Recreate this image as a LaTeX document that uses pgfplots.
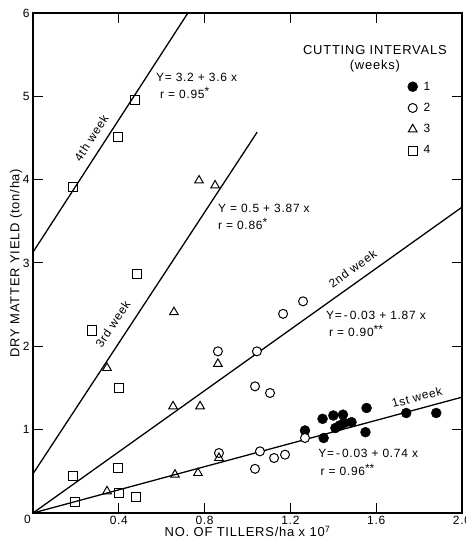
\documentclass[border=0pt]{standalone}
\usepackage{fontspec}
\setmainfont{Liberation Sans}[LetterSpace=6]
\usepackage{pgfplots}
\pgfplotsset{compat=1.18}
\newcommand{\st}{\raisebox{0.45ex}{*}}
\begin{document}
\begin{tikzpicture}
\begin{axis}[
  name=ax,
  scale only axis, width=429bp, height=500bp,
  xmin=0, xmax=2.0, ymin=0, ymax=6,
  axis line style={line width=1.2pt},
  tick style={line width=1pt, black},
  major tick length=10bp,
  tick align=inside, tick pos=both,
  xtick={0.4,0.8,1.2,1.6,2.0},
  xticklabels={0.4,0.8,1.2,1.6,2.0},
  ytick={1,2,3,4,5,6},
  yticklabels={1,2,3,4,5,6},
  ticklabel style={font=\fontsize{12}{14}\selectfont},
  xticklabel pos=lower, yticklabel pos=left,
  /pgf/number format/assume math mode=true,
  xlabel={NO. OF TILLERS/ha x 10\textsuperscript{7}},
  ylabel={DRY MATTER YIELD (ton/ha)},
  label style={font=\fontsize{13}{15}\selectfont},
  xlabel style={yshift=6bp},
  ylabel style={yshift=-6bp},
  clip=false,
  legend style={draw=none, fill=none, at={(axis cs:1.739,5.20)}, anchor=north west,
    font=\fontsize{12}{14}\selectfont, row sep=7.5bp, inner sep=0pt},
  legend cell align=left,
  legend image code/.code={\path (0bp,0bp) (14.5bp,0bp); \draw[#1] plot coordinates {(6bp,0bp)};},
]
% regression lines
\addplot[black, line width=1.3pt, forget plot] coordinates {(0,3.13) (0.722,6)};
\addplot[black, line width=1.3pt, forget plot] coordinates {(0,0.47) (1.045,4.57)};
\addplot[black, line width=1.3pt, forget plot] coordinates {(0,0) (2.0,3.67)};
\addplot[black, line width=1.3pt, forget plot] coordinates {(0,0) (2.0,1.39)};
% week 1
\addplot[only marks, mark=*, mark size=5bp, black, fill=black] coordinates {
(1.268,0.99) (1.35,1.13) (1.355,0.90) (1.40,1.17) (1.41,1.02) (1.445,1.18)
(1.45,1.08) (1.485,1.09) (1.555,1.26) (1.55,0.97) (1.74,1.20) (1.88,1.20) (1.43,1.05)};
\addlegendentry{1}
% week 2
\addplot[only marks, mark=*, mark size=4.5bp, black, fill=white, line width=1pt] coordinates {
(1.259,2.54) (1.166,2.39) (0.862,1.94) (1.044,1.94) (1.035,1.52) (1.105,1.44)
(0.867,0.72) (1.058,0.74) (1.124,0.66) (1.175,0.70) (1.035,0.53) (1.268,0.90)};
\addlegendentry{2}
% week 3
\addplot[only marks, mark=triangle, mark size=5bp, black, line width=1pt] coordinates {
(0.774,3.99) (0.849,3.93) (0.657,2.41) (0.345,1.74) (0.862,1.79) (0.653,1.28)
(0.779,1.28) (0.345,0.26) (0.662,0.46) (0.769,0.48) (0.867,0.66)};
\addlegendentry{3}
% week 4
\addplot[only marks, mark=square, mark size=4.5bp, black, line width=1pt] coordinates {
(0.186,3.91) (0.396,4.51) (0.476,4.95) (0.485,2.87) (0.275,2.19) (0.40,1.50)
(0.186,0.44) (0.396,0.54) (0.196,0.13) (0.40,0.24) (0.48,0.19)};
\addlegendentry{4}
% legend title
\node[font=\fontsize{13}{15}\selectfont] at (axis cs:1.594,5.55) {CUTTING INTERVALS};
\node[font=\fontsize{13}{15}\selectfont] at (axis cs:1.594,5.36) {(weeks)};
% origin label
\node[font=\fontsize{12}{14}\selectfont, anchor=north east, inner sep=2bp] at (axis cs:0,0) {0};
% equations
\begin{scope}[every node/.style={font=\fontsize{12}{14}\selectfont, anchor=west, inner sep=0pt}]
\node at (axis cs:0.573,5.23) {Y= 3.2 + 3.6 x};
\node at (axis cs:0.592,5.04) {r = 0.95\st};
\node at (axis cs:0.862,3.66) {Y = 0.5 + 3.87 x};
\node at (axis cs:0.862,3.47) {r = 0.86\st};
\node at (axis cs:1.366,2.37) {Y=\,-\,0.03 + 1.87 x};
\node at (axis cs:1.38,2.18) {r = 0.90\st\st};
\node at (axis cs:1.33,0.72) {Y=\,-\,0.03 + 0.74 x};
\node at (axis cs:1.34,0.52) {r = 0.96\st\st};
\end{scope}
% line labels
\begin{scope}[every node/.style={font=\fontsize{12}{14}\selectfont, inner sep=0pt}]
\node[rotate=57.0] at (axis cs:0.272,4.50) {4th week};
\node[rotate=56.7] at (axis cs:0.372,2.27) {3rd week};
\node[rotate=35.5] at (axis cs:1.49,2.93) {2nd week};
\node[rotate=15.1] at (axis cs:1.79,1.39) {1st week};
\end{scope}
\end{axis}
\pgfresetboundingbox
\path ([shift={(-33bp,-33bp)}]ax.south west) rectangle ([shift={(4bp,13bp)}]ax.north east);
\end{tikzpicture}
\end{document}
